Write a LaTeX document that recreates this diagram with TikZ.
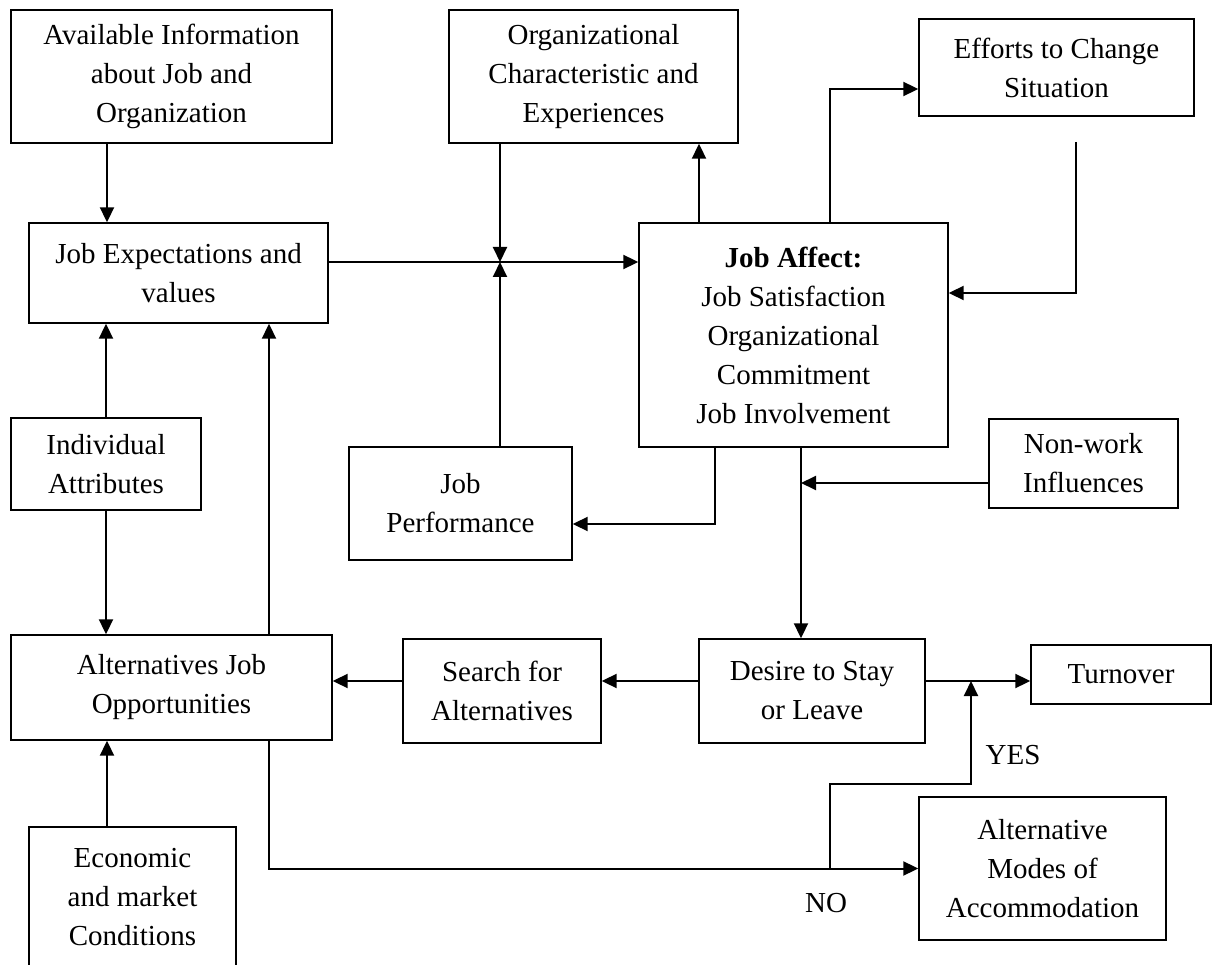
\documentclass[tikz,border=0pt]{standalone}
\usepackage{fontspec}
\setmainfont{Liberation Serif}
\usetikzlibrary{arrows.meta}

\begin{document}
\begin{tikzpicture}[x=1pt,y=-1pt,
  txt/.style={font=\fontsize{29}{39}\selectfont},
  box/.style={txt, draw, line width=1.4pt, align=center, inner sep=0pt},
  link/.style={line width=2pt, -{Triangle[length=15pt,width=14pt]}},
  lbl/.style={txt, inner sep=0pt}]

\useasboundingbox (0,0) rectangle (1221,965);
\clip (0,0) rectangle (1221,965);

% ---- boxes ----
\node[box, minimum width=321pt, minimum height=133pt] (avail) at (171.5,76.5)
  {Available Information\\about Job and\\Organization};
\node[box, minimum width=289pt, minimum height=133pt] (orgchar) at (593.5,76.5)
  {Organizational\\Characteristic and\\Experiences};
\node[box, minimum width=275pt, minimum height=97pt] (efforts) at (1056.5,67.5)
  {Efforts to Change\\Situation};
\node[box, minimum width=299pt, minimum height=100pt] (jobexp) at (178.5,273)
  {Job Expectations and\\values};
\node[box, minimum width=309pt, minimum height=224pt] (affect) at (793.5,335)
  {\textbf{Job Affect:}\\Job Satisfaction\\Organizational\\Commitment\\Job Involvement};
\node[box, minimum width=190pt, minimum height=92pt] (indiv) at (106,464)
  {Individual\\Attributes};
\node[box, minimum width=223pt, minimum height=113pt] (perf) at (460.5,503.5)
  {Job\\Performance};
\node[box, minimum width=189pt, minimum height=89pt] (nonwork) at (1083.5,463.5)
  {Non-work\\Influences};
\node[box, minimum width=321pt, minimum height=105pt] (alt) at (171.5,687.5)
  {Alternatives Job\\Opportunities};
\node[box, minimum width=198pt, minimum height=104pt] (search) at (502,691)
  {Search for\\Alternatives};
\node[box, minimum width=226pt, minimum height=104pt] (desire) at (812,691)
  {Desire to Stay\\or Leave};
\node[box, minimum width=180pt, minimum height=59pt] (turnover) at (1121,674.5)
  {Turnover};
\node[box, minimum width=207pt, minimum height=140pt] (econ) at (132.5,897)
  {Economic\\and market\\Conditions};
\node[box, minimum width=247pt, minimum height=143pt] (altmodes) at (1042.5,868.5)
  {Alternative\\Modes of\\Accommodation};

% ---- lanes and junctions ----
\coordinate (l1) at (107,0);
\coordinate (l2) at (269,0);
\coordinate (l4) at (699,0);
\coordinate (l5) at (830,0);
\coordinate (l7) at (715,0);
\coordinate (l8) at (801,0);
\coordinate (l9) at (971,0);
\coordinate (j1) at (500,262);
\coordinate (r1) at (0,681);
\coordinate (yb) at (0,784);
\coordinate (fb) at (1076,142);
\coordinate (nw) at (801,483);

% ---- connectors ----
\draw[link] (l1 |- avail.south) -- (l1 |- jobexp.north);
\draw[link] (jobexp.east |- j1) -- (affect.west |- j1);
\draw[link] (j1 |- orgchar.south) -- (j1);
\draw[link] (j1 |- perf.north) -- (j1);
\draw[link] (l4 |- affect.north) -- (l4 |- orgchar.south);
\draw[link] (l5 |- affect.north) |- ([yshift=-21.5pt]efforts.west);
\draw[link] (fb) |- ([yshift=42pt]affect.east);
\draw[link] (indiv.north) -- (indiv.north |- jobexp.south);
\draw[link] (indiv.south) -- (indiv.south |- alt.north);
\draw[link] (l2 |- alt.north) -- (l2 |- jobexp.south);
\draw[link] (l1 |- econ.north) -- (l1 |- alt.south);
\draw[link] (l7 |- affect.south) |- ([yshift=-20.5pt]perf.east);
\draw[link] (l8 |- affect.south) -- (l8 |- desire.north);
\draw[link] (nonwork.west |- nw) -- (nw);
\draw[link] (desire.west |- r1) -- (search.east |- r1);
\draw[link] (search.west |- r1) -- (alt.east |- r1);
\draw[link] (desire.east |- r1) -- (turnover.west |- r1);
\draw[link] (l2 |- alt.south) |- (altmodes.west);
\draw[link] (l5 |- altmodes.west) -- (l5 |- yb) -| (l9 |- r1);

% ---- branch labels ----
\node[lbl] (yes) at (1013,755) {YES};
\node[lbl] (no) at (826,903) {NO};
\end{tikzpicture}
\end{document}
